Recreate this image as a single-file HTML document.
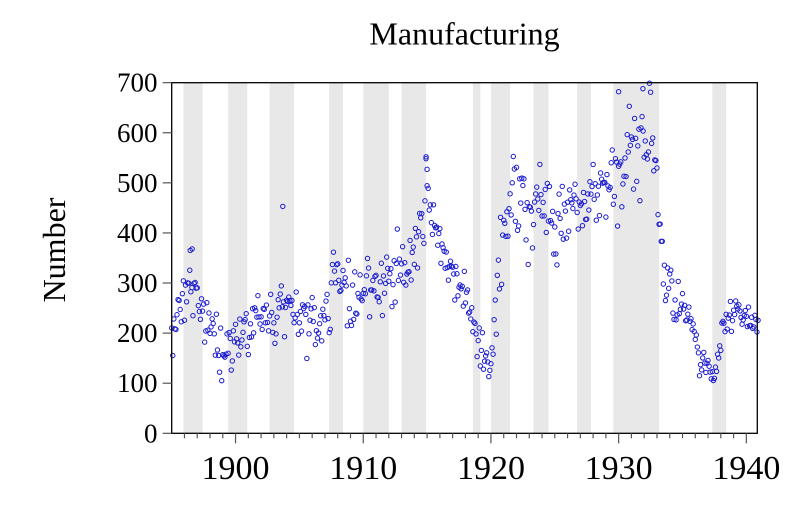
<!DOCTYPE html>
<html>
<head>
<meta charset="utf-8">
<style>
  html,body{margin:0;padding:0;background:#fff;}
  svg{display:block;}
  text{font-family:"Liberation Serif","Times New Roman",serif;fill:#000;}
</style>
</head>
<body>
<svg id="chart" width="800" height="511" viewBox="0 0 800 511" xmlns="http://www.w3.org/2000/svg">
  <rect x="0" y="0" width="800" height="511" fill="#fff"/>
  <g id="bands" fill="#e8e8e8"></g>
  <g id="dots" fill="none" stroke="#1a1ad0" stroke-width="1"></g>
  <rect x="171.7" y="82.7" width="585.6" height="350.6" fill="none" stroke="#000" stroke-width="1.3"/>
  <g id="yticks" stroke="#555" stroke-width="1.2"></g>
  <g id="xticks" stroke="#555" stroke-width="1.2"></g>
  <g id="ylabels" font-size="27" text-anchor="end"></g>
  <g id="xlabels" font-size="34" text-anchor="middle"></g>
  <text x="464.5" y="44.5" font-size="32" text-anchor="middle">Manufacturing</text>
  <text transform="translate(65,250) rotate(-90)" font-size="32" text-anchor="middle">Number</text>
</svg>
<script>
(function(){
  var NS="http://www.w3.org/2000/svg";
  var X0=171.7, PX=12.77, Y0=433.3, PY=0.5009, TOP=82.7, H=350.6;
  function xOf(t){return X0+(t-1895)*PX;}
  function yOf(v){return Y0-v*PY;}
  function el(name,attrs,parent,txt){
    var e=document.createElementNS(NS,name);
    for(var k in attrs)e.setAttribute(k,attrs[k]);
    if(txt!==undefined)e.textContent=txt;
    parent.appendChild(e);return e;
  }
  // recession bands
  var bands=[[1895+11/12,1897+5/12],[1899+5/12,1900+11/12],[1902+8/12,1904+7/12],
    [1907+4/12,1908+5/12],[1910,1912],[1913,1914+11/12],[1918+7/12,1919+2/12],
    [1920,1921+6/12],[1923+4/12,1924+6/12],[1926+9/12,1927+10/12],
    [1929+7/12,1933+2/12],[1937+4/12,1938+5/12]];
  var gb=document.getElementById("bands");
  bands.forEach(function(b){
    var a=xOf(b[0]),c=xOf(b[1]);
    el("rect",{x:a.toFixed(2),y:TOP,width:(c-a).toFixed(2),height:H},gb);
  });
  // y ticks & labels
  var gyt=document.getElementById("yticks"),gyl=document.getElementById("ylabels");
  for(var v=0;v<=700;v+=100){
    var y=yOf(v);
    el("line",{x1:162.7,y1:y.toFixed(2),x2:171.7,y2:y.toFixed(2)},gyt);
    el("text",{x:157.5,y:(y+9).toFixed(2)},gyl,String(v));
  }
  // x ticks & labels
  var gxt=document.getElementById("xticks"),gxl=document.getElementById("xlabels");
  for(var yr=1896;yr<=1940;yr++){
    var x=xOf(yr);
    var major=(yr%10===0);
    el("line",{x1:x.toFixed(2),y1:Y0,x2:x.toFixed(2),y2:major?Y0+10:Y0+5},gxt);
    if(major)el("text",{x:x.toFixed(2),y:479},gxl,String(yr));
  }
  // data
  var knots=[[1895.0,205],[1895.6,240],[1896.0,280],[1896.5,300],[1897.0,250],[1897.5,230],
   [1898.0,215],[1898.5,175],[1899.0,160],[1899.5,165],[1900.0,190],[1900.5,200],[1901.0,215],
   [1901.5,220],[1902.0,220],[1902.5,230],[1903.0,235],[1903.5,245],[1904.0,240],[1904.5,230],
   [1905.0,225],[1905.5,220],[1906.0,210],[1906.5,215],[1907.0,225],[1907.5,260],[1908.0,340],
   [1908.5,300],[1909.0,270],[1909.5,260],[1910.0,275],[1910.5,285],[1911.0,280],[1911.5,290],
   [1912.0,305],[1912.5,315],[1913.0,325],[1913.5,340],[1914.0,360],[1914.5,390],[1914.9,480],
   [1915.1,500],[1915.4,420],[1916.0,390],[1916.5,340],[1917.0,320],[1917.5,300],[1918.0,280],
   [1918.5,230],[1919.0,180],[1919.5,145],[1920.0,145],[1920.3,210],[1920.6,330],[1921.0,370],
   [1921.4,450],[1921.7,520],[1922.0,470],[1922.5,440],[1923.0,420],[1923.5,470],[1924.0,470],
   [1924.5,430],[1925.0,420],[1925.5,430],[1926.0,440],[1926.5,440],[1927.0,450],[1927.5,470],
   [1928.0,480],[1928.5,490],[1929.0,490],[1929.5,500],[1930.0,520],[1930.5,540],[1931.0,540],
   [1931.5,570],[1932.0,590],[1932.5,600],[1932.9,520],[1933.1,450],[1933.4,340],[1933.8,300],
   [1934.5,260],[1935.0,250],[1935.5,240],[1935.9,220],[1936.3,170],[1936.7,140],[1937.0,130],
   [1937.4,125],[1937.7,140],[1938.0,200],[1938.5,220],[1939.0,250],[1939.5,240],[1940.0,240],
   [1940.5,230],[1940.95,210]];
  function trend(t){
    for(var i=0;i<knots.length-1;i++){
      var a=knots[i],b=knots[i+1];
      if(t>=a[0]&&t<=b[0]){return a[1]+(b[1]-a[1])*(t-a[0])/(b[0]-a[0]);}
    }
    return knots[knots.length-1][1];
  }
  function sd(t){
    if(t<1907)return 30; if(t<1915)return 35; if(t<1920.3)return 22;
    if(t<1929)return 40; if(t<1933)return 50; return 22;
  }
  var s=123456789;
  function rnd(){s^=s<<13;s^=s>>>17;s^=s<<5;return ((s>>>0)%100000)/100000;}
  var gd=document.getElementById("dots");
  function dot(t,v){
    el("circle",{cx:xOf(t).toFixed(2),cy:yOf(v).toFixed(2),r:2.2},gd);
  }
  for(var m=0;m<552;m++){
    var t=1895+m/12;
    var n=(rnd()+rnd()+rnd()-1.5)*2;
    var v=trend(t)+n*sd(t);
    if(v<105)v=105+rnd()*10;
    dot(t,v);
  }
  dot(1903.7,453);dot(1896.45,365);dot(1896.6,368);dot(1914.92,552);dot(1915.0,527);
  dot(1931.9,688);dot(1930.0,682);
})();
</script>
</body>
</html>
